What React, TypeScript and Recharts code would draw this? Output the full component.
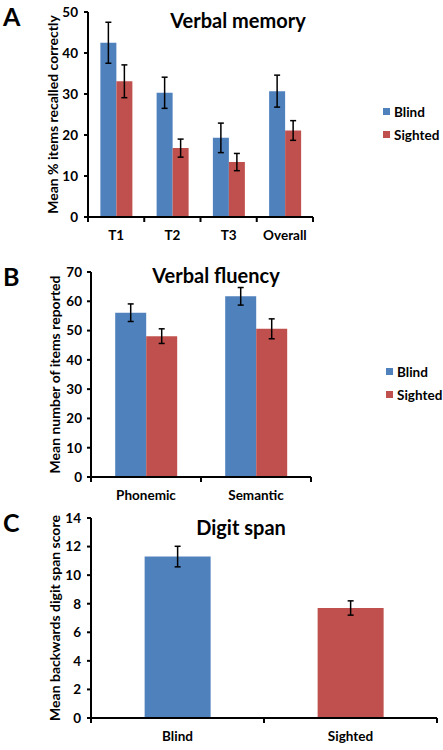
import { BarChart, Bar, XAxis, YAxis, ErrorBar, Legend, Cell } from "recharts";

const BLUE = "#4f81bd";
const RED = "#c0504d";
const FONT = "Lato, 'Open Sans', sans-serif";

// Verbal memory
const memoryCategories = ["T1", "T2", "T3", "Overall"];
const memoryBlind = [42.5, 30.3, 19.3, 30.7];
const memoryBlindErr = [5, 3.8, 3.6, 3.9];
const memorySighted = [33.1, 16.8, 13.4, 21.1];
const memorySightedErr = [4, 2.2, 2.1, 2.4];
const memoryTicks = [0, 10, 20, 30, 40, 50];

// Verbal fluency
const fluencyCategories = ["Phonemic", "Semantic"];
const fluencyBlind = [56.1, 61.7];
const fluencyBlindErr = [3, 3];
const fluencySighted = [48.1, 50.6];
const fluencySightedErr = [2.5, 3.4];
const fluencyTicks = [0, 10, 20, 30, 40, 50, 60, 70];

// Digit span
const spanGroups = ["Blind", "Sighted"];
const spanValues = [11.3, 7.7];
const spanErr = [0.72, 0.5];
const spanColors = [BLUE, RED];
const spanTicks = [0, 2, 4, 6, 8, 10, 12, 14];

const memoryData = memoryCategories.map((name, i) => ({
  name,
  Blind: memoryBlind[i],
  blindErr: memoryBlindErr[i],
  Sighted: memorySighted[i],
  sightedErr: memorySightedErr[i],
}));

const fluencyData = fluencyCategories.map((name, i) => ({
  name,
  Blind: fluencyBlind[i],
  blindErr: fluencyBlindErr[i],
  Sighted: fluencySighted[i],
  sightedErr: fluencySightedErr[i],
}));

const spanData = spanGroups.map((name, i) => ({
  name,
  score: spanValues[i],
  err: spanErr[i],
}));

const axisStroke = { stroke: "#000", strokeWidth: 2 };
const tickText = { fill: "#000", fontSize: 13.5, fontWeight: 700, fontFamily: FONT };

// category tick: label in the middle, tick marks on the category edges (Excel style)
const makeCatTick = (count: number) => (props: any) => {
  const { x, y, payload, index } = props;
  const half = payload.offset ?? 0;
  return (
    <g>
      <line x1={x - half} x2={x - half} y1={y} y2={y + 5} stroke="#000" strokeWidth={2} />
      {index === count - 1 && (
        <line x1={x + half} x2={x + half} y1={y} y2={y + 5} stroke="#000" strokeWidth={2} />
      )}
      <text x={x} y={y + 23} textAnchor="middle" {...tickText}>
        {payload.value}
      </text>
    </g>
  );
};

const legendContent = (props: any) => (
  <div style={{ fontFamily: FONT, fontSize: 13.5, fontWeight: 700, color: "#000" }}>
    {props.payload.map((p: any) => (
      <div key={p.value} style={{ display: "flex", alignItems: "center", height: 23 }}>
        <span style={{ width: 7, height: 7, background: p.color, marginRight: 4 }} />
        {p.value}
      </div>
    ))}
  </div>
);

const yLabel = (value: string, offset: number) => ({
  value,
  angle: -90,
  position: "insideLeft" as const,
  offset,
  style: { textAnchor: "middle", fill: "#000", fontSize: 14, fontWeight: 700, fontFamily: FONT },
});

const letterStyle = {
  position: "absolute" as const,
  fontFamily: FONT,
  fontWeight: 700,
  fontSize: 25,
  lineHeight: "25px",
  color: "#000",
};

const titleStyle = {
  position: "absolute" as const,
  fontFamily: FONT,
  fontWeight: 700,
  fontSize: 20,
  lineHeight: "20px",
  color: "#000",
  transform: "translateX(-50%)",
  whiteSpace: "nowrap" as const,
};

export default function App() {
  return (
    <div style={{ position: "absolute", left: 0, top: 0, width: 443, height: 750, background: "#fff" }}>
      {/* A: verbal memory */}
      <div style={{ position: "absolute", left: 0, top: 0 }}>
        <BarChart
          width={443}
          height={250}
          data={memoryData}
          margin={{ top: 12, right: 70, left: 0, bottom: 3 }}
          barCategoryGap="22%"
          barGap={0}
        >
          <XAxis
            dataKey="name"
            height={30}
            axisLine={axisStroke}
            tickLine={false}
            tickSize={0}
            tickMargin={0}
            tick={makeCatTick(memoryCategories.length)}
            interval={0}
          />
          <YAxis
            domain={[0, 50]}
            ticks={memoryTicks}
            width={88}
            axisLine={axisStroke}
            tickLine={axisStroke}
            tickSize={4}
            tickMargin={6}
            tick={tickText}
            label={yLabel("Mean % items recalled correctly", 53)}
          />
          <Legend
            layout="horizontal"
            verticalAlign="middle"
            align="right"
            content={legendContent}
            wrapperStyle={{ left: 383, top: 100, width: 60 }}
          />
          <Bar dataKey="Blind" fill={BLUE} isAnimationActive={false}>
            <ErrorBar dataKey="blindErr" width={3} stroke="#000" strokeWidth={1.5} />
          </Bar>
          <Bar dataKey="Sighted" fill={RED} isAnimationActive={false}>
            <ErrorBar dataKey="sightedErr" width={3} stroke="#000" strokeWidth={1.5} />
          </Bar>
        </BarChart>
      </div>
      <div style={{ ...letterStyle, left: 3, top: 4 }}>A</div>
      <div style={{ ...titleStyle, left: 238, top: 10 }}>Verbal memory</div>

      {/* B: verbal fluency */}
      <div style={{ position: "absolute", left: 0, top: 250 }}>
        <BarChart
          width={443}
          height={260}
          data={fluencyData}
          margin={{ top: 22, right: 72, left: 0, bottom: 3 }}
          barCategoryGap="22%"
          barGap={0}
        >
          <XAxis
            dataKey="name"
            height={30}
            axisLine={axisStroke}
            tickLine={false}
            tickSize={0}
            tickMargin={0}
            tick={makeCatTick(fluencyCategories.length)}
            interval={0}
          />
          <YAxis
            domain={[0, 70]}
            ticks={fluencyTicks}
            width={91}
            axisLine={axisStroke}
            tickLine={axisStroke}
            tickSize={4}
            tickMargin={5}
            tick={tickText}
            label={yLabel("Mean number of items reported", 55)}
          />
          <Legend
            layout="horizontal"
            verticalAlign="middle"
            align="right"
            content={legendContent}
            wrapperStyle={{ left: 386, top: 110, width: 60 }}
          />
          <Bar dataKey="Blind" fill={BLUE} isAnimationActive={false}>
            <ErrorBar dataKey="blindErr" width={3} stroke="#000" strokeWidth={1.5} />
          </Bar>
          <Bar dataKey="Sighted" fill={RED} isAnimationActive={false}>
            <ErrorBar dataKey="sightedErr" width={3} stroke="#000" strokeWidth={1.5} />
          </Bar>
        </BarChart>
      </div>
      <div style={{ ...letterStyle, left: 3, top: 264 }}>B</div>
      <div style={{ ...titleStyle, left: 216, top: 265 }}>Verbal fluency</div>

      {/* C: digit span */}
      <div style={{ position: "absolute", left: 0, top: 500 }}>
        <BarChart
          width={443}
          height={250}
          data={spanData}
          margin={{ top: 18, right: 6, left: 0, bottom: 2 }}
          barCategoryGap="31%"
        >
          <XAxis
            dataKey="name"
            height={30}
            axisLine={axisStroke}
            tickLine={false}
            tickSize={0}
            tickMargin={0}
            tick={makeCatTick(spanGroups.length)}
            interval={0}
          />
          <YAxis
            domain={[0, 14]}
            ticks={spanTicks}
            width={91}
            axisLine={axisStroke}
            tickLine={axisStroke}
            tickSize={4}
            tickMargin={6}
            tick={tickText}
            label={yLabel("Mean backwards digit span score", 55)}
          />
          <Bar dataKey="score" isAnimationActive={false}>
            {spanData.map((d, i) => (
              <Cell key={d.name} fill={spanColors[i]} />
            ))}
            <ErrorBar dataKey="err" width={3} stroke="#000" strokeWidth={1.5} />
          </Bar>
        </BarChart>
      </div>
      <div style={{ ...letterStyle, left: 3, top: 510 }}>C</div>
      <div style={{ ...titleStyle, left: 241, top: 517 }}>Digit span</div>
    </div>
  );
}
